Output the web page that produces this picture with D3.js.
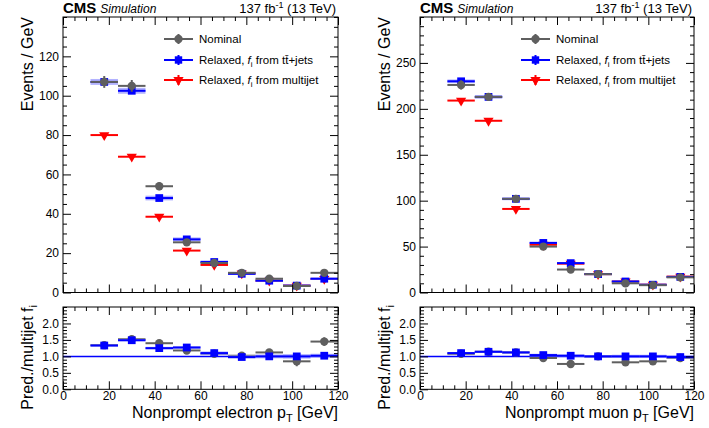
<!DOCTYPE html>
<html><head><meta charset="utf-8">
<script src="https://cdn.jsdelivr.net/npm/d3@7"></script>
<style>
body{margin:0;background:#fff;}
text{font-family:"Liberation Sans",Arial,Helvetica,sans-serif;}
</style></head>
<body><svg id="c" width="709" height="428"></svg>
<script>
// ---- data ----
const binEdges = [12,24,36,48,60,72,84,96,108,120];
const binCenters = [18,30,42,54,66,78,90,102,114];
// electron
const eNominal = [107,105,54,25.5,15,10,7,3.3,10];
const eNominalErr = [3,3,2,1.5,1,0.8,0.8,0.6,1.2];
const eTtbar = [107,102.5,48,27,15.5,9.5,6,3.5,7];
const eTtbarErr = [1.5,1.5,1.2,1,0.8,0.6,0.5,0.4,0.6];
const eMultijet = [80,69,38.5,21.3,14,9.7,6,3.5,6.9];
const eRatioNominal = [1.34,1.52,1.4,1.18,1.08,1.02,1.12,0.85,1.45];
const eRatioNominalErr = [0.05,0.05,0.05,0.06,0.07,0.08,0.1,0.15,0.13];
const eRatioTtbar = [1.33,1.49,1.25,1.27,1.1,0.98,1.0,1.0,1.02];
const eRatioTtbarErr = [0.03,0.03,0.04,0.04,0.05,0.05,0.06,0.07,0.06];
// muon
const mNominal = [226,213,102,50,25,20,10,8,16.5];
const mNominalErr = [5,4,3,2,1.5,1.2,1,0.8,1];
const mTtbar = [230,213,102,54,32,20,12,8.5,17];
const mTtbarErr = [2,2,1.5,1.2,1,0.8,0.7,0.6,0.8];
const mMultijet = [209,187,91,52,31.4,20,12,8.5,17.3];
const mRatioNominal = [1.08,1.14,1.12,0.95,0.77,1.0,0.82,0.85,0.95];
const mRatioNominalErr = [0.03,0.03,0.04,0.05,0.06,0.06,0.08,0.1,0.07];
const mRatioTtbar = [1.1,1.14,1.12,1.04,1.02,1.0,1.0,1.0,0.98];
const mRatioTtbarErr = [0.03,0.03,0.03,0.04,0.04,0.04,0.05,0.05,0.05];

const xTicks = [0,20,40,60,80,100,120];
const eYTicks = [0,20,40,60,80,100,120];
const mYTicks = [0,50,100,150,200,250];
const ratioTicks = [0,0.5,1,1.5,2];

const GRAY="#5f5f5f", BLUE="#0000ff", RED="#ff0000", LBLUE="#9f9fff";
const svg = d3.select("#c");

function panel(opt){
  const g = svg.append("g");
  const x = d3.scaleLinear([0,120],[opt.x0,opt.x1]);
  const yT = d3.scaleLinear([0,opt.ymax],[292.5,17]);
  const yL = d3.scaleLinear([0,2.5],[389.3,307]);
  function axes(y, yTicks, yMinorStep, yMax, showX){
    const x0=opt.x0,x1=opt.x1,yb=y.range()[0],yt=y.range()[1];
    const minorX = d3.range(0,120.01,5).filter(v=>v%20!==0);
    const minorY = d3.range(0,yMax+1e-6,yMinorStep).filter(v=>!yTicks.some(t=>Math.abs(t-v)<1e-6));
    const mk=(axisFn,scale,vals,size,tr,labels,pad)=>{
      const a = axisFn(scale).tickValues(vals).tickSizeInner(-size).tickSizeOuter(0).tickPadding(labels?pad:0);
      if(!labels) a.tickFormat("");
      const gg = g.append("g").attr("transform",tr).call(a);
      gg.select(".domain").remove();
      gg.selectAll("line").attr("stroke","#000");
      gg.selectAll("text").attr("font-size","12px").attr("fill","#000");
      return gg;
    };
    mk(d3.axisBottom,x,xTicks,8,`translate(0,${yb})`,showX,2);
    mk(d3.axisBottom,x,minorX,4,`translate(0,${yb})`,false);
    mk(d3.axisTop,x,xTicks,8,`translate(0,${yt})`,false);
    mk(d3.axisTop,x,minorX,4,`translate(0,${yt})`,false);
    mk(d3.axisLeft,y,yTicks,8,`translate(${x0},0)`,true,4);
    mk(d3.axisLeft,y,minorY,4,`translate(${x0},0)`,false);
    mk(d3.axisRight,y,yTicks,8,`translate(${x1},0)`,false);
    mk(d3.axisRight,y,minorY,4,`translate(${x1},0)`,false);
    g.append("rect").attr("x",x0).attr("y",yt).attr("width",x1-x0).attr("height",yb-yt)
      .attr("fill","none").attr("stroke","#000").attr("stroke-width",1);
  }
  function series(y, vals, errs, color, marker, band){
    const sg = g.append("g");
    if(band){
      sg.selectAll("rect.band").data(vals).join("rect")
        .attr("x",(d,i)=>x(binEdges[i])).attr("width",(d,i)=>x(binEdges[i+1])-x(binEdges[i]))
        .attr("y",(d,i)=>y(d+band[i])).attr("height",(d,i)=>y(d-band[i])-y(d+band[i]))
        .attr("fill",LBLUE).attr("opacity",0.8);
    }
    sg.selectAll("line.h").data(vals).join("line")
      .attr("x1",(d,i)=>x(binEdges[i])).attr("x2",(d,i)=>x(binEdges[i+1]))
      .attr("y1",d=>y(d)).attr("y2",d=>y(d)).attr("stroke",color).attr("stroke-width",2);
    if(errs){
      sg.selectAll("line.v").data(vals).join("line")
        .attr("x1",(d,i)=>x(binCenters[i])).attr("x2",(d,i)=>x(binCenters[i]))
        .attr("y1",(d,i)=>y(d-errs[i])).attr("y2",(d,i)=>y(d+errs[i]))
        .attr("stroke",color).attr("stroke-width",2);
    }
    const sym = marker==="circle"?d3.symbolCircle:marker==="square"?d3.symbolSquare:d3.symbolTriangle;
    const size = marker==="circle"?55:marker==="square"?60:45;
    sg.selectAll("path.m").data(vals).join("path")
      .attr("d",d3.symbol(sym,size))
      .attr("transform",(d,i)=>`translate(${x(binCenters[i])},${y(d)})`+(marker==="tri"?" rotate(180)":""))
      .attr("fill",color);
  }
  // top
  series(yT, opt.mj, null, RED, "tri");
  series(yT, opt.tt, opt.ttErr, BLUE, "square", opt.ttErr);
  series(yT, opt.nom, opt.nomErr, GRAY, "circle");
  axes(yT, opt.yTicks, opt.yMinor, opt.ymax, false);
  // lower
  g.append("line").attr("x1",x(0)).attr("x2",x(120)).attr("y1",yL(1)).attr("y2",yL(1))
    .attr("stroke",BLUE).attr("stroke-width",1.5);
  series(yL, opt.rNom, opt.rNomErr, GRAY, "circle");
  series(yL, opt.rTt, null, BLUE, "square", opt.rTtErr);
  axes(yL, ratioTicks, 0.1, 2.5, true);

  // titles
  g.append("text").attr("transform",`translate(${opt.x0-30},17) rotate(-90)`)
    .attr("text-anchor","end").attr("font-size","16px").text("Events / GeV");
  const t2 = g.append("text").attr("transform",`translate(${opt.x0-30},305) rotate(-90)`)
    .attr("text-anchor","end").attr("font-size","16px");
  t2.append("tspan").text("Pred./multijet f");
  t2.append("tspan").attr("font-size","11px").attr("dy","4").text("i");
  const xt = g.append("text").attr("x",opt.x1).attr("y",418).attr("text-anchor","end").attr("font-size","16px");
  xt.append("tspan").text(opt.xlabel+" p");
  xt.append("tspan").attr("font-size","11px").attr("dy","4").text("T");
  xt.append("tspan").attr("dy","-4").text(" [GeV]");
  // header
  const h = g.append("text").attr("x",opt.x0).attr("y",13);
  h.append("tspan").attr("font-weight","bold").attr("font-size","15px").text("CMS");
  h.append("tspan").attr("font-style","italic").attr("font-size","12px").attr("dx","4").text("Simulation");
  const l = g.append("text").attr("x",opt.x1-2).attr("y",13).attr("text-anchor","end").attr("font-size","13px");
  l.append("tspan").text("137 fb");
  l.append("tspan").attr("font-size","9px").attr("dy","-5").text("-1");
  l.append("tspan").attr("dy","5").text(" (13 TeV)");
  // legend
  const lx = opt.legX, rows=[39,60,80];
  const items=[{c:GRAY,m:"circle"},{c:BLUE,m:"square"},{c:RED,m:"tri"}];
  items.forEach((it,k)=>{
    const yy=rows[k];
    g.append("line").attr("x1",lx).attr("x2",lx+29).attr("y1",yy).attr("y2",yy).attr("stroke",it.c).attr("stroke-width",2);
    g.append("line").attr("x1",lx+14.5).attr("x2",lx+14.5).attr("y1",yy-5).attr("y2",yy+5).attr("stroke",it.c).attr("stroke-width",2);
    const sym = it.m==="circle"?d3.symbolCircle:it.m==="square"?d3.symbolSquare:d3.symbolTriangle;
    g.append("path").attr("d",d3.symbol(sym,it.m==="tri"?45:55)).attr("fill",it.c)
      .attr("transform",`translate(${lx+14.5},${yy})`+(it.m==="tri"?" rotate(180)":""));
    const tx = g.append("text").attr("x",lx+35).attr("y",yy+4).attr("font-size","11.5px");
    if(k===0){ tx.text("Nominal"); }
    else {
      tx.append("tspan").text("Relaxed, ");
      tx.append("tspan").attr("font-style","italic").text("f");
      tx.append("tspan").attr("font-size","8px").attr("dy","3").text("i");
      if(k===1){
        tx.append("tspan").attr("dy","-3").text(" from t");
        tx.append("tspan").text("t\u0304");
        tx.append("tspan").text("+jets");
      } else {
        tx.append("tspan").attr("dy","-3").text(" from multijet");
      }
    }
  });
}

panel({x0:63,x1:338,ymax:140,yTicks:eYTicks,yMinor:5,legX:164,xlabel:"Nonprompt electron",
  nom:eNominal,nomErr:eNominalErr,tt:eTtbar,ttErr:eTtbarErr,mj:eMultijet,
  rNom:eRatioNominal,rNomErr:eRatioNominalErr,rTt:eRatioTtbar,rTtErr:eRatioTtbarErr});
panel({x0:420,x1:694,ymax:300,yTicks:mYTicks,yMinor:10,legX:521,xlabel:"Nonprompt muon",
  nom:mNominal,nomErr:mNominalErr,tt:mTtbar,ttErr:mTtbarErr,mj:mMultijet,
  rNom:mRatioNominal,rNomErr:mRatioNominalErr,rTt:mRatioTtbar,rTtErr:mRatioTtbarErr});
</script></body></html>
